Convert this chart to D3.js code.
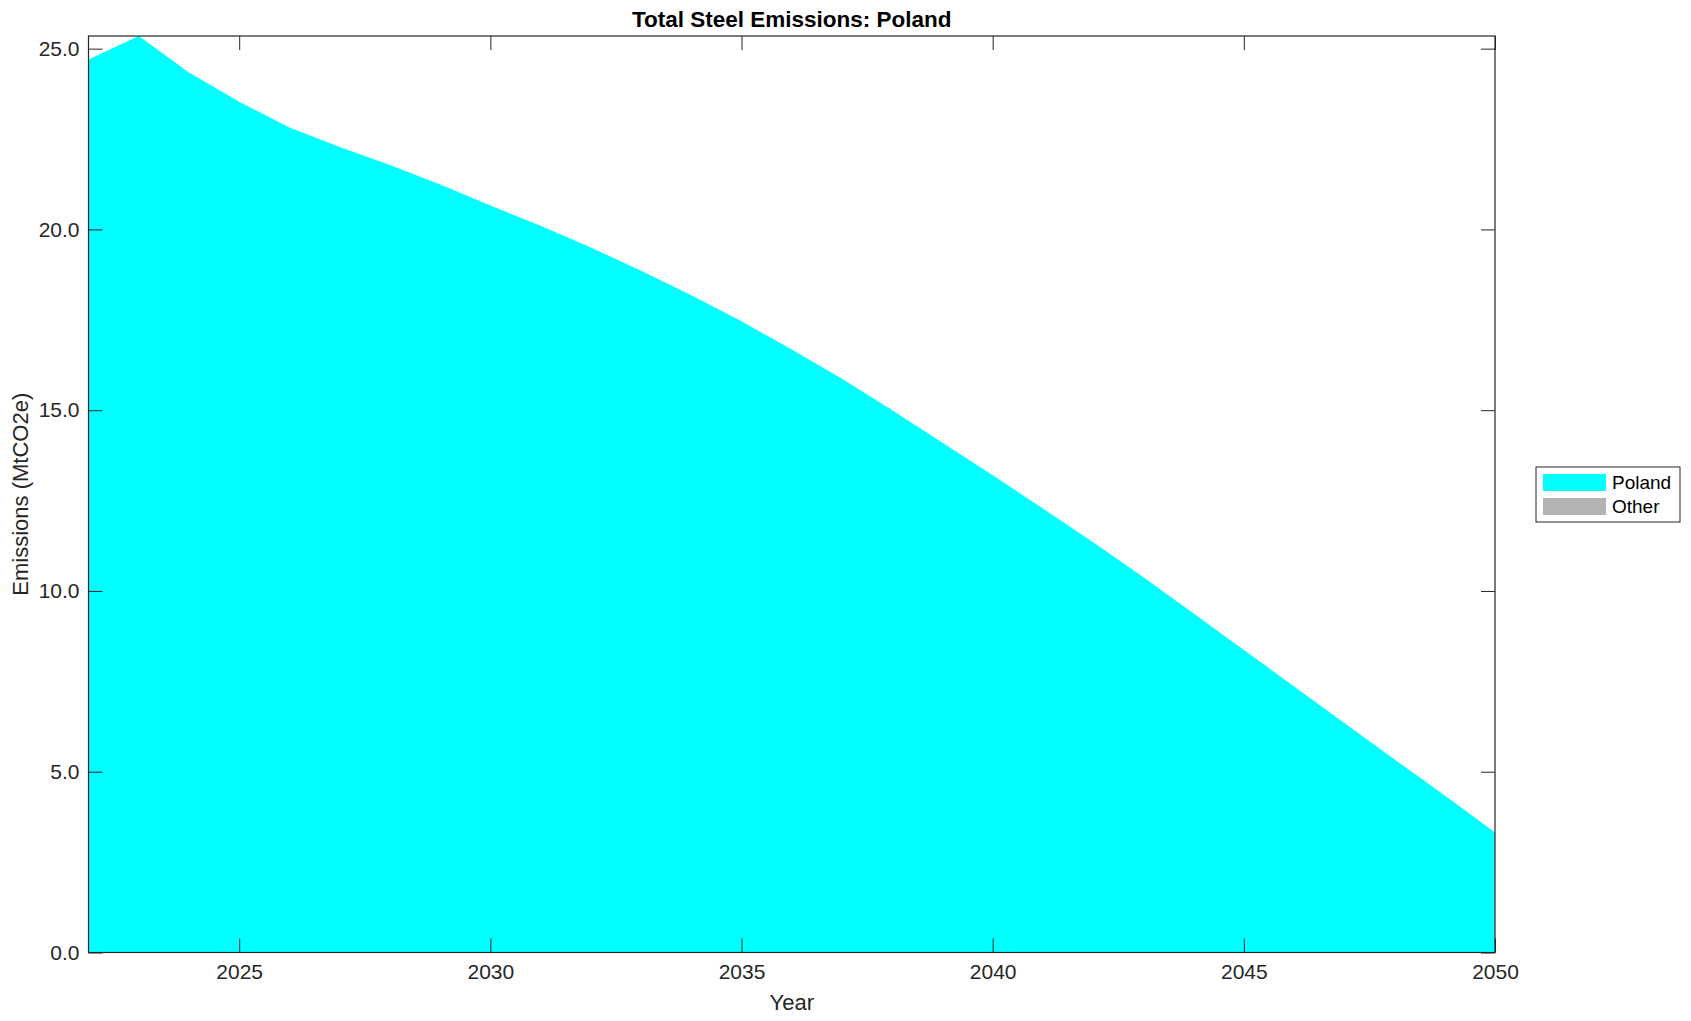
<!DOCTYPE html>
<html>
<head>
<meta charset="utf-8">
<script src="https://cdn.jsdelivr.net/npm/d3@7"></script>
<style>
  body { margin: 0; background: #fff; }
  text { font-family: "Liberation Sans", Arial, Helvetica, sans-serif; fill: #262626; }
</style>
</head>
<body>
<script>
// data
var years = [2022,2023,2024,2025,2026,2027,2028,2029,2030,2031,2032,2033,2034,2035,2036,
             2037,2038,2039,2040,2041,2042,2043,2044,2045,2046,2047,2048,2049,2050];
var poland = [24.70,25.35,24.34,23.53,22.82,22.28,21.78,21.24,20.66,20.10,19.50,18.86,18.18,17.46,16.68,
              15.87,15.00,14.10,13.20,12.28,11.35,10.38,9.38,8.37,7.36,6.35,5.34,4.34,3.32];
var other = years.map(function() { return 0; });
var seriesNames = ["Poland", "Other"];
var seriesColors = ["#00ffff", "#b3b3b3"];
var xTicks = [2025, 2030, 2035, 2040, 2045, 2050];
var yTicks = [0, 5, 10, 15, 20, 25];

var W = 1691, H = 1021;
var margin = {left: 88.5, top: 36, right: 196, bottom: 68.5};
var iw = W - margin.left - margin.right, ih = H - margin.top - margin.bottom;

var svg = d3.select("body").append("svg").attr("width", W).attr("height", H);
var g = svg.append("g").attr("transform", "translate(" + margin.left + "," + margin.top + ")");

var x = d3.scaleLinear().domain([2022, 2050]).range([0, iw]);
var y = d3.scaleLinear().domain([0, 25.35]).range([ih, 0]);

var rows = years.map(function(yr, i) { return {year: yr, Poland: poland[i], Other: other[i]}; });
var stack = d3.stack().keys(seriesNames)(rows);

var area = d3.area()
  .x(function(d) { return x(d.data.year); })
  .y0(function(d) { return y(d[0]); })
  .y1(function(d) { return y(d[1]); });

g.selectAll(".layer").data(stack).enter().append("path")
  .attr("class", "layer")
  .attr("d", area)
  .attr("fill", function(d, i) { return seriesColors[i]; });

// axes, ticks pointing inward, mirrored on top/right
var tl = 14;
var axStroke = "#262626";
g.append("g").attr("transform", "translate(0," + ih + ")")
  .call(d3.axisBottom(x).tickValues(xTicks).tickFormat(d3.format("d")).tickSize(-tl).tickPadding(12))
  .call(function(s) { s.select(".domain").remove(); });
g.append("g")
  .call(d3.axisTop(x).tickValues(xTicks).tickFormat("").tickSize(-tl))
  .call(function(s) { s.select(".domain").remove(); });
g.append("g")
  .call(d3.axisLeft(y).tickValues(yTicks).tickFormat(d3.format(".1f")).tickSize(-tl).tickPadding(9))
  .call(function(s) { s.select(".domain").remove(); });
g.append("g").attr("transform", "translate(" + iw + ",0)")
  .call(d3.axisRight(y).tickValues(yTicks).tickFormat("").tickSize(-tl))
  .call(function(s) { s.select(".domain").remove(); });

g.selectAll(".tick line").attr("stroke", axStroke).attr("stroke-width", 1);
g.selectAll(".tick text").style("font-size", "21px").attr("fill", "#262626");

g.append("rect").attr("width", iw).attr("height", ih)
  .attr("fill", "none").attr("stroke", axStroke).attr("stroke-width", 1.2);

// title and axis labels
svg.append("text").attr("x", margin.left + iw / 2).attr("y", 27)
  .attr("text-anchor", "middle").style("font-size", "22.5px").style("font-weight", "bold")
  .style("fill", "#000")
  .text("Total Steel Emissions: Poland");
svg.append("text").attr("x", margin.left + iw / 2).attr("y", 1010)
  .attr("text-anchor", "middle").style("font-size", "22px")
  .text("Year");
svg.append("text")
  .attr("transform", "translate(28," + (margin.top + ih / 2) + ") rotate(-90)")
  .attr("text-anchor", "middle").style("font-size", "22px")
  .text("Emissions (MtCO2e)");

// legend
var lg = svg.append("g").attr("transform", "translate(1536,467)");
lg.append("rect").attr("width", 144).attr("height", 55)
  .attr("fill", "#fff").attr("stroke", "#262626").attr("stroke-width", 1);
var items = lg.selectAll(".item").data(seriesNames).enter().append("g")
  .attr("transform", function(d, i) { return "translate(7," + (7 + i * 24) + ")"; });
items.append("rect").attr("width", 63).attr("height", 17)
  .attr("fill", function(d, i) { return seriesColors[i]; });
items.append("text").attr("x", 69).attr("y", 15)
  .style("font-size", "19px").style("fill", "#000")
  .text(function(d) { return d; });
</script>
</body>
</html>
